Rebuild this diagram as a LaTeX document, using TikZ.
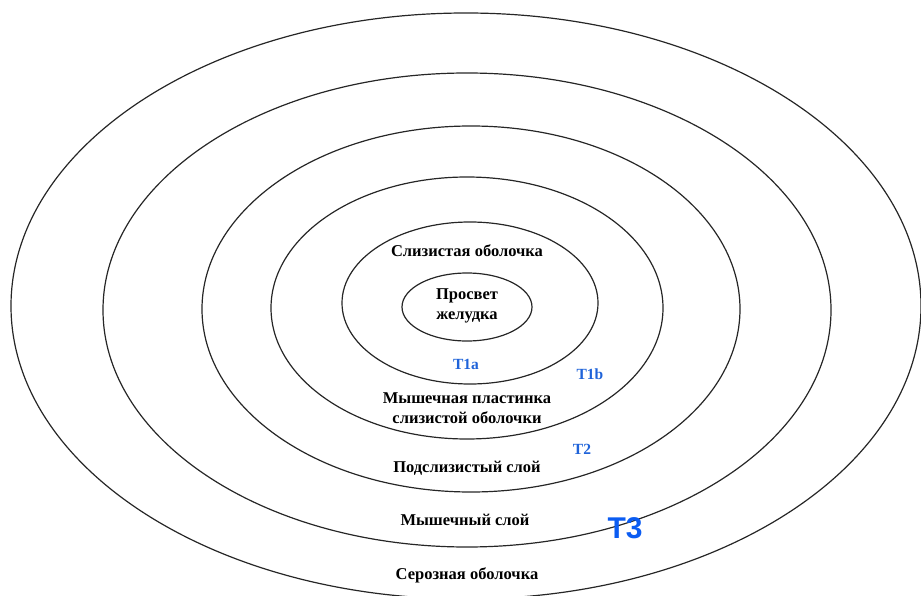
\documentclass[tikz,border=0pt]{standalone}
\usepackage{fontspec}
\setmainfont{Liberation Serif}
\newfontfamily\tfont{Liberation Sans}
\definecolor{tblue}{HTML}{1F63D9}
\definecolor{tthree}{HTML}{0B5CF2}
\begin{document}
\begin{tikzpicture}[x=1pt,y=-1pt,
  ring/.style={draw=black!85,line width=1.2pt},
  lbl/.style={font=\fontsize{16.5}{20}\selectfont\bfseries,align=center,inner sep=0pt},
  tl/.style={font=\fontsize{15.5}{17}\selectfont\bfseries,text=tblue,inner sep=0pt}]
\useasboundingbox (0,0) rectangle (921,596);
\begin{scope}
\clip (0,0) rectangle (921,596);
\draw[ring] (466,306) ellipse [x radius=455, y radius=293];
\draw[ring] (467,310) ellipse [x radius=364, y radius=237];
\draw[ring] (471,309) ellipse [x radius=269, y radius=183];
\draw[ring] (467,308) ellipse [x radius=196, y radius=131];
\draw[ring] (470,303) ellipse [x radius=128, y radius=81];
\draw[ring] (467,307) ellipse [x radius=65, y radius=34];
\end{scope}
\node[lbl] (muc) at (467,251) {Слизистая оболочка};
\node[lbl] (lum) at (467,306) {Просвет\\[0pt]желудка};
\node[tl] (t1a) at (466,364) {T1a};
\node[tl] (t1b) at (590,374) {T1b};
\node[lbl] (mm) at (467,408) {Мышечная пластинка\\[0pt]слизистой оболочки};
\node[tl] (t2) at (582,449) {T2};
\node[lbl] (sub) at (467,468) {Подслизистый слой};
\node[lbl] (mus) at (465,520) {Мышечный слой};
\node[font=\tfont\fontsize{30}{32}\selectfont\bfseries,text=tthree,inner sep=0pt] (t3) at (625,528) {T3};
\node[lbl] (ser) at (467,575) {Серозная оболочка};
\end{tikzpicture}
\end{document}
